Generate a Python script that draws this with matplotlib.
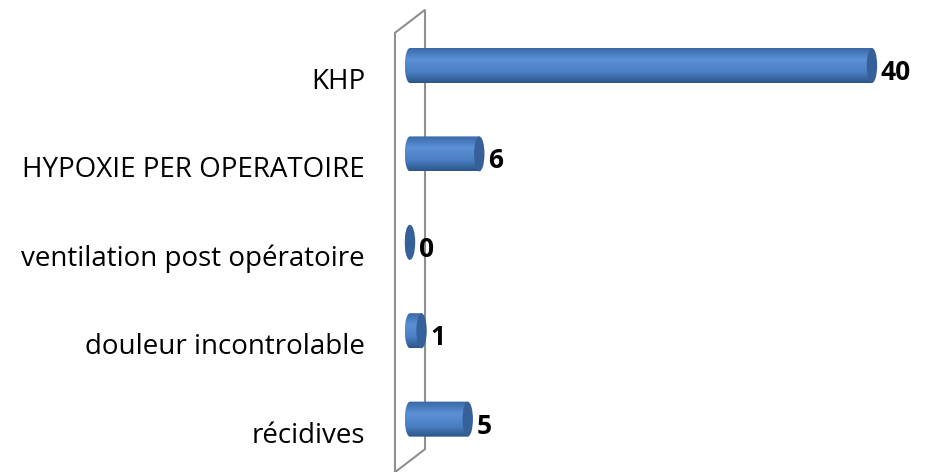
"""3D-look horizontal cylinder bar chart (Excel style) of post-operative complications."""

import matplotlib

matplotlib.use("Agg")
import matplotlib.pyplot as plt
import numpy as np
from matplotlib.colors import LinearSegmentedColormap
from matplotlib.patches import Ellipse, PathPatch
from matplotlib.path import Path

categories = [
    "KHP",
    "HYPOXIE PER OPERATOIRE",
    "ventilation post opératoire",
    "douleur incontrolable",
    "récidives",
]
values = [40, 6, 0, 1, 5]

FONT = ["Open Sans", "DejaVu Sans"]
BODY = LinearSegmentedColormap.from_list(
    "cyl", [(0.0, "#3866a6"), (0.35, "#5b90d6"), (0.7, "#4b7ec2"), (1.0, "#2b5688")]
)
CAP = "#36609a"
WALL = "#8f8f8f"

HALF_H = 0.198   # cylinder half height, in rows
HALF_W = 0.45    # cap ellipse half width, in value units
DEPTH_X, DEPTH_Y = 1.3, -0.26  # 3D depth of the back wall


def _cylinder(ax, v, y):
    # body + rounded back end (left half ellipse), filled with a vertical gradient
    t = np.linspace(np.pi / 2, 3 * np.pi / 2, 40)
    arc = np.column_stack([HALF_W * np.cos(t), y + HALF_H * np.sin(t)])
    verts = np.vstack([[[v, y - HALF_H], [v, y + HALF_H]], arc, [[v, y - HALF_H]]])
    patch = PathPatch(Path(verts), fc="none", ec="none")
    ax.add_patch(patch)
    grad = np.linspace(0, 1, 64).reshape(-1, 1)
    img = ax.imshow(grad, cmap=BODY, aspect="auto", origin="upper",
                    extent=(-HALF_W, max(v, 0.01), y + HALF_H, y - HALF_H),
                    interpolation="bilinear", zorder=3)
    img.set_clip_path(patch)
    ax.add_patch(Ellipse((v, y), 2 * HALF_W, 2 * HALF_H, fc=CAP, ec="none", zorder=4))


fig = plt.figure(figsize=(9.26, 4.72), dpi=100)
ax = fig.add_axes([0, 0, 1, 1])
ax.axis("off")

rows = np.arange(len(categories))

# back wall (the category axis plane)
y_top, y_bot = -0.37, 4.6
wall_x = [-DEPTH_X, -DEPTH_X, DEPTH_X, DEPTH_X, -DEPTH_X]
wall_y = [y_bot, y_top, y_top + DEPTH_Y, y_bot + DEPTH_Y, y_bot]
ax.plot(wall_x, wall_y, color=WALL, lw=1.5, solid_joinstyle="miter", zorder=1)

for y, v, label in zip(rows, values, categories):
    _cylinder(ax, v, y)
    ax.annotate(label, (0, y), xytext=(-45, -23.5), textcoords="offset pixels",
                ha="right", va="baseline", fontsize=20, family=FONT, color="black")
    ax.annotate(f"{v}", (v, y), xytext=(9, -14.5), textcoords="offset pixels",
                ha="left", va="baseline", fontsize=19, fontweight="bold", family=FONT,
                color="black", zorder=5)

ax.set_xlim(-35.5, 44.68)
ax.set_ylim(4.598, -0.741)

fig.savefig("out.png", dpi=100)
